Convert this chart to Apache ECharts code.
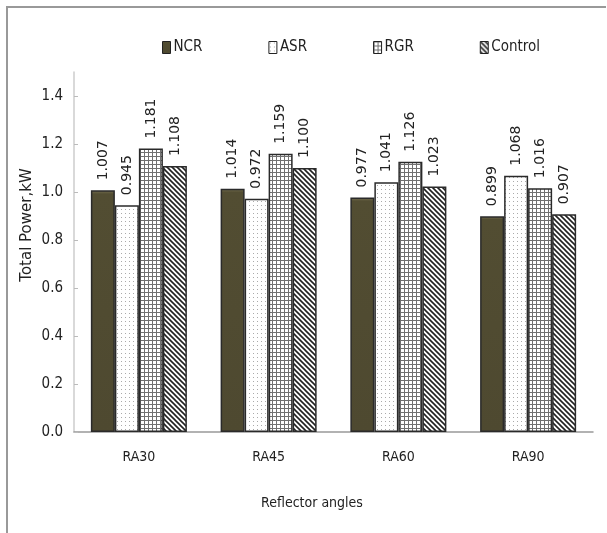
<!DOCTYPE html>
<html>
<head>
<meta charset="utf-8">
<script src="https://cdn.jsdelivr.net/npm/echarts@6/dist/echarts.min.js"></script>
<style type="text/css">
	html,body{margin:0;padding:0;background:#fff}
	#main{width:607px;height:533px;}
</style>
</head>
<body>
<div id="main"></div>
<script type="text/javascript">
// 数据
var categories = ['RA30', 'RA45', 'RA60', 'RA90'];
var seriesNames = ['NCR', 'ASR', 'RGR', 'Control'];
var ncr     = [1.007, 1.014, 0.977, 0.899];
var asr     = [0.945, 0.972, 1.041, 1.068];
var rgr     = [1.181, 1.159, 1.126, 1.016];
var control = [1.108, 1.100, 1.023, 0.907];
var yTicks  = [0, 0.2, 0.4, 0.6, 0.8, 1.0, 1.2, 1.4];

var narrow = '"Liberation Sans Narrow", "DejaVu Sans Condensed", sans-serif';

// 填充图案
function pattern(size, draw){
	var c = document.createElement('canvas');
	c.width = size; c.height = size;
	var ctx = c.getContext('2d');
	ctx.fillStyle = '#fff';
	ctx.fillRect(0, 0, size, size);
	draw(ctx);
	return {image: c, repeat: 'repeat'};
}
var dots = pattern(4, function(ctx){
	ctx.fillStyle = '#aaa';
	ctx.fillRect(1, 1, 1, 1);
});
var grid = pattern(4, function(ctx){
	ctx.fillStyle = '#707070';
	ctx.fillRect(0, 0, 4, 1);
	ctx.fillRect(0, 0, 1, 4);
});
var hatch = pattern(5, function(ctx){
	ctx.strokeStyle = '#222';
	ctx.lineWidth = 1.6;
	ctx.beginPath();
	ctx.moveTo(-1, -1); ctx.lineTo(6, 6);
	ctx.moveTo(-1, 4); ctx.lineTo(1, 6);
	ctx.moveTo(4, -1); ctx.lineTo(6, 1);
	ctx.stroke();
});
var fills = [
	{type: 'linear', x: 0, y: 0, x2: 0, y2: 1, colorStops: [
		{offset: 0, color: '#7a7455'}, {offset: 0.015, color: '#524d32'}, {offset: 1, color: '#4e4930'}]},
	dots, grid, hatch
];
var values = [ncr, asr, rgr, control];

var chart = echarts.init(document.getElementById('main'));

var series = seriesNames.map(function(name, i){
	return {
		name: name,
		type: 'bar',
		data: values[i],
		barGap: '0%',
		barCategoryGap: '26%',
		itemStyle: {color: fills[i], borderColor: '#2a2a2a', borderWidth: 1.5},
		label: {
			show: true,
			position: 'top',
			rotate: 90,
			align: 'left',
			verticalAlign: 'middle',
			distance: 10,
			fontFamily: '"DejaVu Sans", sans-serif',
			fontSize: 14,
			color: '#222',
			formatter: function(p){ return p.value.toFixed(3); }
		}
	};
});

chart.setOption({
	animation: false,
	graphic: [{
		type: 'polyline',
		shape: {points: [[7, 533], [7, 7], [606, 7]]},
		style: {stroke: '#999', lineWidth: 2, fill: null}
	}, {
		// 纵轴标题
		type: 'text',
		x: 27, y: 225,
		rotation: Math.PI / 2,
		style: {text: 'Total Power,kW', font: '15px "DejaVu Sans", sans-serif', fill: '#222',
			align: 'center', verticalAlign: 'middle'}
	}, {
		// 横轴标题
		type: 'text',
		x: 312, y: 503,
		style: {text: 'Reflector angles', font: '14px ' + narrow, fill: '#222',
			align: 'center', verticalAlign: 'middle'}
	}],
	legend: {
		data: seriesNames,
		left: 162,
		top: 40,
		padding: 0,
		icon: 'rect',
		itemWidth: 8,
		itemHeight: 12,
		itemGap: 66,
		itemStyle: {borderColor: '#222', borderWidth: 1},
		textStyle: {fontFamily: narrow, fontSize: 15, color: '#222', padding: [0, 0, 0, -2]}
	},
	grid: {left: 74, right: 14, top: 72, bottom: 101, containLabel: false},
	xAxis: {
		type: 'category',
		data: categories,
		axisLine: {lineStyle: {color: '#999', width: 1.5}},
		axisTick: {inside: true, length: 7, lineStyle: {color: '#bbb'}},
		axisLabel: {fontFamily: narrow, fontSize: 14, color: '#222', margin: 18}
	},
	yAxis: {
		type: 'value',
		min: 0,
		max: 1.5,
		interval: 0.2,
		axisLine: {show: true, lineStyle: {color: '#ccc', width: 1.5}},
		axisTick: {show: true, inside: true, length: 4, lineStyle: {color: '#bbb'}, customValues: yTicks},
		splitLine: {show: false},
		axisLabel: {
			fontFamily: narrow, fontSize: 15, color: '#222', margin: 11,
			customValues: yTicks,
			formatter: function(v){ return v.toFixed(1); }
		}
	},
	series: series
});
</script>
</body>
</html>
